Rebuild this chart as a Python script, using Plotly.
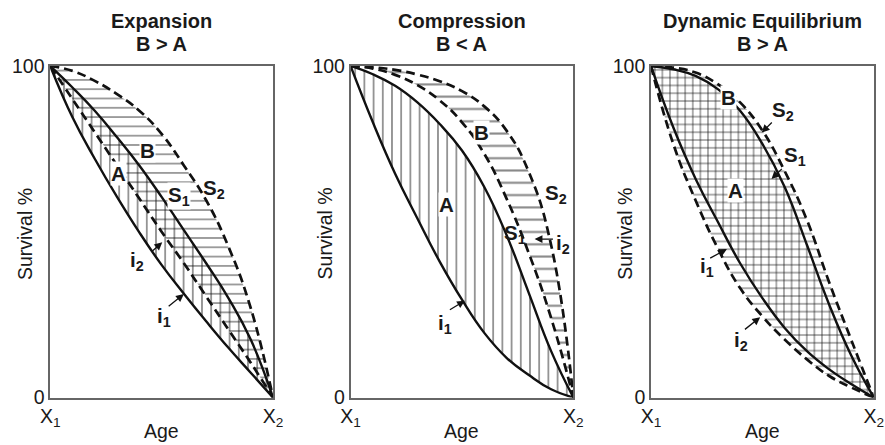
import plotly.graph_objects as go

# ---- data (age normalised X1=0 .. X2=1, survival %) ----
age = [0, 0.1, 0.2, 0.3, 0.4, 0.5, 0.6, 0.7, 0.8, 0.9, 1.0]

# Expansion (B > A)
exp_i1 = [100, 84.5, 72, 60.5, 49.8, 40, 31.3, 23, 15, 7.5, 0]
exp_i2 = [100, 90, 80, 70, 60, 50, 40.5, 30.5, 20.5, 10.5, 0]
exp_s1 = [100, 93.5, 86.5, 78.5, 70, 60.5, 50.5, 40.5, 30, 17.5, 0]
exp_s2 = [100, 98.5, 95.5, 91.5, 86.5, 79.5, 70, 59.5, 45.5, 27, 0]

# Compression (B < A)
com_i1 = [100, 83, 67.5, 54, 41, 29.5, 19.5, 12, 6.8, 2.5, 0]
com_s1 = [100, 97.5, 94, 89, 82.5, 74.5, 63.5, 49, 31.5, 14, 0]
com_i2 = [100, 99.2, 97.3, 94.2, 89.6, 83, 73.5, 60, 43.5, 24, 0]
com_s2 = [100, 99.6, 98.8, 97.4, 95.4, 92.4, 87.8, 80.5, 68, 46, 0]

# Dynamic Equilibrium (B > A)
dyn_i2 = [100, 76.5, 59.5, 45, 33, 24.5, 17.5, 11.5, 6.5, 3, 0]
dyn_i1 = [100, 81.5, 66, 53, 40.5, 30, 21, 14, 8.5, 4, 0]
dyn_s1 = [100, 99, 97, 93, 86.5, 76.5, 63.5, 46, 28, 12.5, 0]
dyn_s2 = [100, 99.5, 98, 94.5, 89, 80.5, 68.3, 53.5, 34.7, 17.2, 0]

titles = ["Expansion", "Compression", "Dynamic Equilibrium"]
subtitles = ["B > A", "B < A", "B > A"]
y_ticks = [0, 100]
y_ticktext = ["0", "100"]
x_ticks = [0, 1]
x_ticktext = ["X<sub>1</sub>", "X<sub>2</sub>"]

# ---- layout geometry ----
# target positions are given in pixels of the final 885x445 picture;
# the page is shown slightly scaled, so they are mapped back to figure pixels.
W, H = 888, 448
AX, BX = 0.9827, 8.6
AY, BY = 0.952, 10.0
box_left = [49, 351, 653]
box_w = 224
box_top, box_bot = 65, 397


def px(xp):
    return min(1.0, max(0.0, ((xp - BX) / AX) / W))


def py(yp):
    return min(1.0, max(0.0, 1 - ((yp - BY) / AY) / H))


FONT = "Liberation Sans, Arial, sans-serif"
INK = "#1a1a1a"

panels = [
    dict(i1=exp_i1, i2=exp_i2, s1=exp_s1, s2=exp_s2, vsize=9.2, hsize=9.3),
    dict(i1=com_i1, i2=com_i2, s1=com_s1, s2=com_s2, vsize=9.2, hsize=12.3),
    dict(i1=dyn_i1, i2=dyn_i2, s1=dyn_s1, s2=dyn_s2, vsize=7.6, hsize=7.8),
]

fig = go.Figure()

solid = dict(color="#111", width=2.4, shape="spline", smoothing=1.3)
dashed = dict(color="#111", width=2.7, dash="9px,5px", shape="spline", smoothing=1.3)

for k, p in enumerate(panels):
    sx = "x" if k == 0 else f"x{k+1}"
    sy = "y" if k == 0 else f"y{k+1}"
    # Region A : between i1 and S1 (vertical hatching)
    fig.add_trace(go.Scatter(x=age, y=p["i1"], mode="lines", line=solid,
                             xaxis=sx, yaxis=sy, showlegend=False, hoverinfo="skip"))
    fig.add_trace(go.Scatter(x=age, y=p["s1"], mode="lines", line=solid,
                             fill="tonexty", fillcolor="rgba(0,0,0,0)",
                             fillpattern=dict(shape="|", fgcolor="#111", bgcolor="rgba(0,0,0,0)",
                                              size=p["vsize"], solidity=0.18),
                             xaxis=sx, yaxis=sy, showlegend=False, hoverinfo="skip"))
    # Region B : between i2 and S2 (horizontal hatching)
    fig.add_trace(go.Scatter(x=age, y=p["i2"], mode="lines", line=dashed,
                             xaxis=sx, yaxis=sy, showlegend=False, hoverinfo="skip"))
    fig.add_trace(go.Scatter(x=age, y=p["s2"], mode="lines", line=dashed,
                             fill="tonexty", fillcolor="rgba(0,0,0,0)",
                             fillpattern=dict(shape="-", fgcolor="#111", bgcolor="rgba(0,0,0,0)",
                                              size=p["hsize"], solidity=0.17),
                             xaxis=sx, yaxis=sy, showlegend=False, hoverinfo="skip"))

layout = dict(width=W, height=H, margin=dict(l=0, r=0, t=0, b=0), autosize=False,
              paper_bgcolor="white", plot_bgcolor="white", showlegend=False)

annotations = []
for k in range(3):
    xs = "xaxis" if k == 0 else f"xaxis{k+1}"
    ys = "yaxis" if k == 0 else f"yaxis{k+1}"
    xa = "x" if k == 0 else f"x{k+1}"
    ya = "y" if k == 0 else f"y{k+1}"
    layout[xs] = dict(domain=[px(box_left[k]), px(box_left[k] + box_w)], range=[0, 1], anchor=ya,
                      showgrid=False, zeroline=False, showline=True, mirror=True,
                      linecolor="#666", linewidth=1.5, ticks="", ticklabelstandoff=0,
                      tickvals=x_ticks, ticktext=x_ticktext,
                      tickfont=dict(family=FONT, size=19.5, color=INK), fixedrange=True)
    layout[ys] = dict(domain=[py(box_bot), py(box_top)], range=[0, 100], anchor=xa,
                      showgrid=False, zeroline=False, showline=True, mirror=True,
                      linecolor="#666", linewidth=1.5, ticks="", ticklabelstandoff=0,
                      tickvals=y_ticks, ticktext=y_ticktext,
                      tickfont=dict(family=FONT, size=19.5, color=INK), fixedrange=True)
    cx = px(box_left[k] + box_w / 2)
    common = dict(xref="paper", yref="paper", showarrow=False,
                  xanchor="center", yanchor="middle")
    annotations.append(dict(text=f"<b>{titles[k]}</b>", x=cx, y=py(20),
                            font=dict(family=FONT, size=20, color=INK), **common))
    annotations.append(dict(text=f"<b>{subtitles[k]}</b>", x=cx, y=py(43),
                            font=dict(family=FONT, size=20, color=INK), **common))
    annotations.append(dict(text="Age", x=cx, y=py(430),
                            font=dict(family=FONT, size=19.5, color=INK), **common))
    annotations.append(dict(text="Survival %", textangle=-90,
                            x=px(box_left[k] - 26), y=py(233),
                            font=dict(family=FONT, size=19.5, color=INK), **common))

# curve labels: (panel, text, x, y, white backing)
labels = [
    (0, "B", 0.436, 74.4, True), (0, "A", 0.308, 67.5, True),
    (0, "S<sub>1</sub>", 0.58, 60.8, True), (0, "S<sub>2</sub>", 0.735, 63.0, False),
    (0, "i<sub>2</sub>", 0.39, 41.3, False), (0, "i<sub>1</sub>", 0.51, 24.4, False),
    (1, "B", 0.588, 79.9, True), (1, "A", 0.432, 58.3, True),
    (1, "S<sub>2</sub>", 0.924, 61.4, False), (1, "S<sub>1</sub>", 0.74, 49.4, False),
    (1, "i<sub>2</sub>", 0.953, 46.4, False), (1, "i<sub>1</sub>", 0.424, 22.3, False),
    (2, "B", 0.348, 90.5, True), (2, "S<sub>2</sub>", 0.594, 86.4, False),
    (2, "S<sub>1</sub>", 0.647, 72.9, False), (2, "A", 0.378, 62.3, True),
    (2, "i<sub>1</sub>", 0.25, 39.5, False), (2, "i<sub>2</sub>", 0.406, 17.2, False),
]
for k, t, x, y, back in labels:
    xa = "x" if k == 0 else f"x{k+1}"
    ya = "y" if k == 0 else f"y{k+1}"
    annotations.append(dict(text=f"<b>{t}</b>", xref=xa, yref=ya, x=x, y=y, showarrow=False,
                            xanchor="center", yanchor="middle",
                            bgcolor="white" if back else "rgba(0,0,0,0)", borderpad=0,
                            font=dict(family=FONT, size=20.5, color=INK)))

# pointer arrows: (panel, tail x, tail y, tip x, tip y)
arrows = [
    (0, 0.452, 43.8, 0.503, 46.8), (0, 0.525, 27.2, 0.600, 31.2),
    (1, 0.915, 47.8, 0.826, 47.8), (1, 0.439, 26.2, 0.513, 29.2),
    (2, 0.549, 83.4, 0.497, 79.9), (2, 0.594, 69.4, 0.541, 65.9),
    (2, 0.259, 41.8, 0.341, 44.8), (2, 0.415, 20.2, 0.490, 24.2),
]
for k, ax, ay, x, y in arrows:
    xa = "x" if k == 0 else f"x{k+1}"
    ya = "y" if k == 0 else f"y{k+1}"
    annotations.append(dict(text="", xref=xa, yref=ya, axref=xa, ayref=ya,
                            x=x, y=y, ax=ax, ay=ay, showarrow=True,
                            arrowhead=2, arrowsize=1.2, arrowwidth=1.3,
                            arrowcolor="#111", standoff=0, startstandoff=0))

layout["annotations"] = annotations
fig.update_layout(**layout)
fig.write_html("out.html")
